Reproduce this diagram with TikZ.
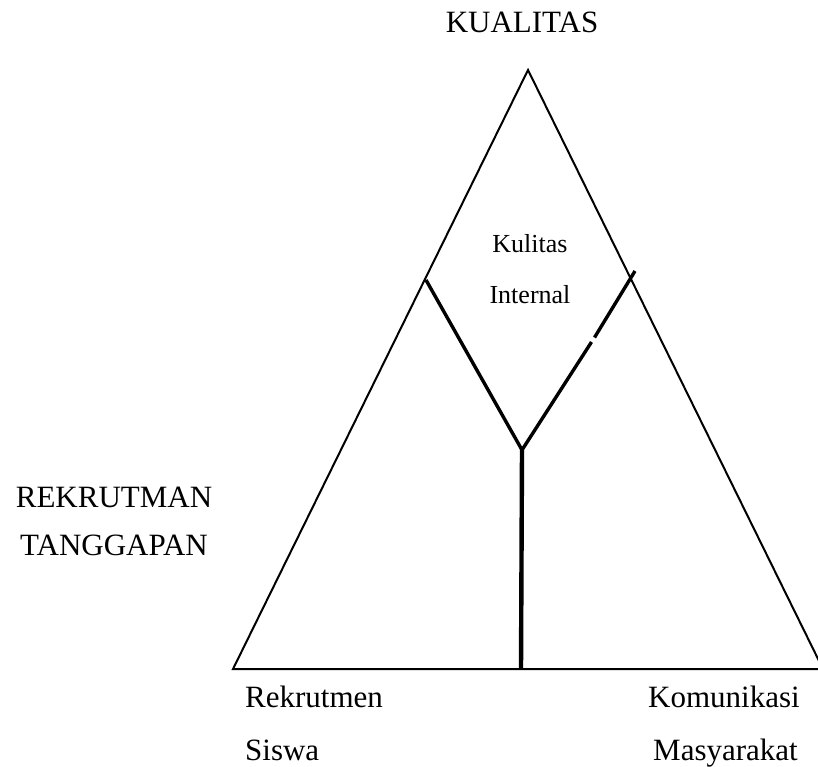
\documentclass[tikz,border=0pt]{standalone}
\usepackage{fontspec}
\setmainfont{Liberation Serif}
\begin{document}
\begin{tikzpicture}[x=1pt,y=-1pt,
  big/.style={inner sep=0pt,font=\fontsize{31}{37}\selectfont},
  small/.style={inner sep=0pt,font=\fontsize{26}{31}\selectfont},
  tri/.style={line width=2pt,line join=miter},
  inner/.style={line width=3.4pt},
  stem/.style={line width=4.4pt}]
\path[use as bounding box] (0,0) rectangle (818,767);
\begin{scope}
\clip (0,0) rectangle (818,767);
\coordinate (apex) at (528,70);
\coordinate (bl) at (233,669);
\coordinate (br) at (823,669);
\coordinate (pl) at (426,280);
\coordinate (pr) at (635,271);
\coordinate (mid) at (522,450);
\coordinate (gapa) at (591.5,342);
\coordinate (gapb) at (594.5,337.5);
\coordinate (bot) at (521,669);
\draw[tri] (bl) -- (apex) -- (br) -- cycle;
\draw[inner,line join=miter] (pl) -- (mid) -- (gapa);
\draw[inner] (gapb) -- (pr);
\draw[stem] (mid) -- (bot);
\end{scope}
\node[big,anchor=base] (kual) at (522,33) {KUALITAS};
\node[small,anchor=base] (kul) at (530,252) {Kulitas};
\node[small,anchor=base] (int) at (530,303) {Internal};
\node[big,anchor=base] (rek) at (114,507) {REKRUTMAN};
\node[big,anchor=base] (tang) at (114,555) {TANGGAPAN};
\node[big,anchor=base west] (rekr) at (245,707) {Rekrutmen};
\node[big,anchor=base west] (sis) at (245,760) {Siswa};
\node[big,anchor=base west] (kom) at (648,707) {Komunikasi};
\node[big,anchor=base west] (mas) at (653,760) {Masyarakat};
\end{tikzpicture}
\end{document}
